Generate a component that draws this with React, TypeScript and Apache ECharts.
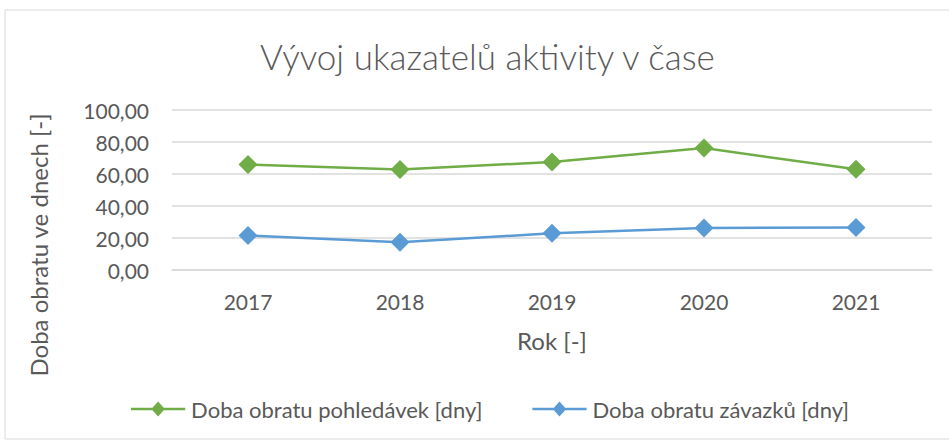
import React, { useEffect, useRef } from "react";
import * as echarts from "echarts";

const years = ["2017", "2018", "2019", "2020", "2021"];
const pohledavky = [65.9, 62.8, 67.5, 76.2, 63.0];
const zavazky = [21.5, 17.3, 22.9, 26.3, 26.6];
const seriesNames = ["Doba obratu pohledávek [dny]", "Doba obratu závazků [dny]"];
const titleText = "Vývoj ukazatelů aktivity v čase";
const xName = "Rok [-]";
const yName = "Doba obratu ve dnech [-]";

const FONT = "Lato, 'Open Sans', sans-serif";
const TXT = "#595959";
const LEGEND_ICON = "path://M0,6.5L56,6.5L56,9L0,9Z M28,0L35,7.75L28,15.5L21,7.75Z";

export default function App() {
  const ref = useRef<HTMLDivElement>(null);
  useEffect(() => {
    if (!ref.current) return;
    const chart = echarts.init(ref.current, null, { renderer: "svg" });
    chart.setOption({
      animation: false,
      backgroundColor: "#ffffff",
      title: {
        text: titleText,
        left: 255,
        top: 33,
        textStyle: { fontFamily: FONT, fontSize: 35, fontWeight: 300, color: TXT },
      },
      graphic: [
        {
          type: "rect",
          shape: { x: 5, y: 10, width: 950, height: 429 },
          style: { fill: "none", stroke: "#d9d9d9", lineWidth: 1 },
        },
        {
          type: "text",
          x: 38,
          y: 245,
          rotation: Math.PI / 2,
          style: {
            text: yName,
            fontFamily: FONT,
            fontSize: 24,
            fill: TXT,
            align: "center",
            verticalAlign: "middle",
          },
        },
      ],
      legend: {
        bottom: 21,
        left: 126,
        itemWidth: 56,
        itemHeight: 15,
        itemGap: 50,
        icon: LEGEND_ICON,
        textStyle: { fontFamily: FONT, fontSize: 22, color: TXT },
        data: seriesNames,
      },
      grid: { left: 172, right: 17, top: 110, bottom: 176 },
      xAxis: {
        type: "category",
        data: years,
        name: xName,
        nameLocation: "middle",
        nameGap: 58,
        nameTextStyle: { fontFamily: FONT, fontSize: 24, color: TXT },
        axisLine: { lineStyle: { color: "#d9d9d9", width: 1.5 } },
        axisTick: { show: false },
        axisLabel: { fontFamily: FONT, fontSize: 21, color: TXT, margin: 21 },
      },
      yAxis: {
        type: "value",
        min: 0,
        max: 100,
        interval: 20,
        axisLine: { show: false },
        axisTick: { show: false },
        splitLine: { lineStyle: { color: "#d9d9d9", width: 1.5 } },
        axisLabel: {
          fontFamily: FONT,
          fontSize: 21,
          color: TXT,
          margin: 23,
          formatter: (v: number) => v.toFixed(2).replace(".", ","),
        },
      },
      series: [
        {
          name: seriesNames[0],
          type: "line",
          data: pohledavky,
          symbol: "diamond",
          symbolSize: 19,
          color: "#70AD47",
          lineStyle: { width: 2.5, color: "#70AD47" },
          itemStyle: { color: "#70AD47" },
        },
        {
          name: seriesNames[1],
          type: "line",
          data: zavazky,
          symbol: "diamond",
          symbolSize: 19,
          color: "#5B9BD5",
          lineStyle: { width: 2.5, color: "#5B9BD5" },
          itemStyle: { color: "#5B9BD5" },
        },
      ],
    });
    return () => chart.dispose();
  }, []);
  return (
    <div
      ref={ref}
      style={{ position: "fixed", left: 0, top: 0, width: 949, height: 446 }}
    />
  );
}
